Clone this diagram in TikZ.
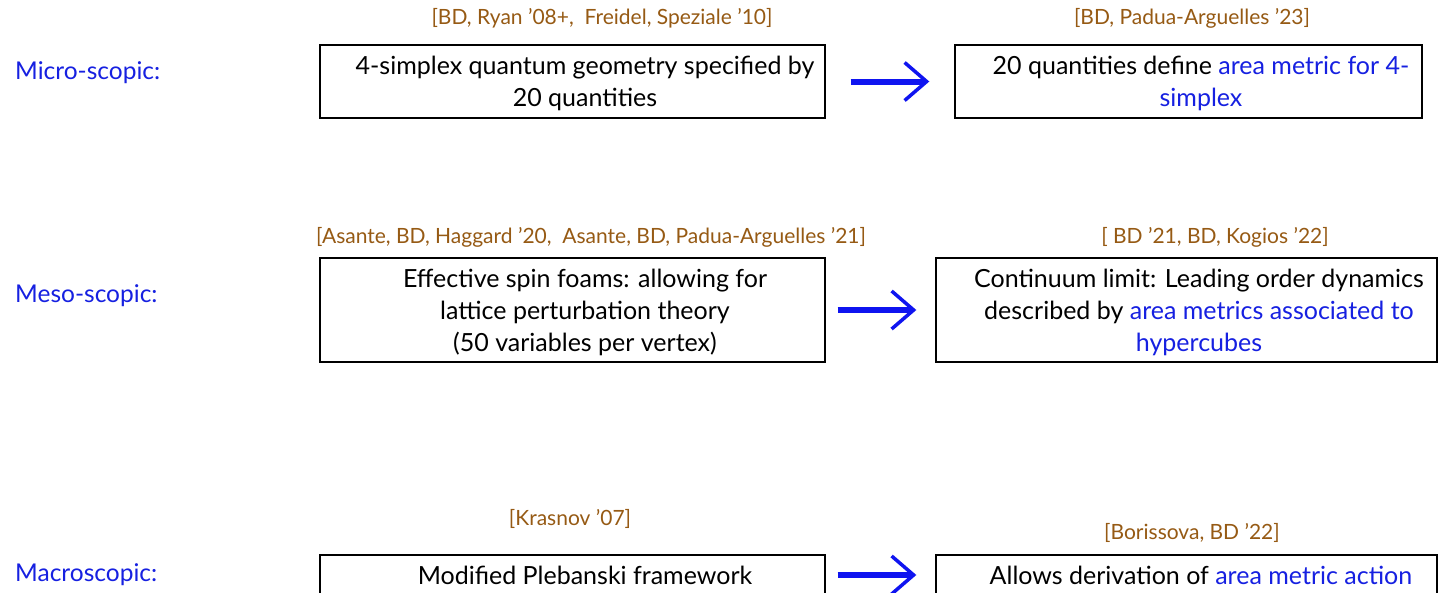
\documentclass[tikz,border=0pt]{standalone}
\usepackage{fontspec}
\setmainfont{Lato}
\usetikzlibrary{arrows.meta}
\definecolor{lblue}{RGB}{22,32,225}
\definecolor{ablue}{RGB}{15,20,240}
\definecolor{cbrown}{RGB}{150,90,20}
\tikzset{
  box/.style={draw=black, line width=1.4pt, inner sep=0pt, fill=none},
  btext/.style={align=center, inner sep=0pt, font=\fontsize{25}{32}\selectfont},
  cite/.style={text=cbrown, inner sep=0pt, font=\fontsize{21}{24}\selectfont},
  level/.style={text=lblue, anchor=west, inner sep=0pt, font=\fontsize{24.5}{28}\selectfont},
  arr/.style={draw=ablue, line width=6pt, -{Straight Barb[length=22pt,width=38pt,line width=3.5pt]}},
  hl/.style={text=lblue}
}
\begin{document}
\begin{tikzpicture}[x=1pt,y=-1pt]
\clip (0,0) rectangle (1439,592);
\fill[white] (0,0) rectangle (1439,592);

% level labels
\node[level] (lmicro) at (15,73) {Micro-scopic:};
\node[level] (lmeso) at (15,296) {Meso-scopic:};
\node[level] (lmacro) at (15,575) {Macroscopic:};

% boxes
\node[box, minimum width=505pt, minimum height=73pt] (ml) at (572.5,81.5) {};
\node[box, minimum width=467pt, minimum height=73pt] (mr) at (1188.5,81.5) {};
\node[box, minimum width=505pt, minimum height=104pt] (sl) at (572.5,310) {};
\node[box, minimum width=501pt, minimum height=104pt] (sr) at (1186.5,310) {};
\node[box, minimum width=505pt, minimum height=40pt] (bl) at (572.5,575) {};
\node[box, minimum width=501pt, minimum height=40pt] (br) at (1186.5,575) {};

% box texts
\node[btext] (tml) at (585,83) {4-simplex quantum geometry specified by\\20 quantities};
\node[btext] (tmr) at (1201,83) {20 quantities define {\color{lblue}area metric for 4-}\\{\color{lblue}simplex}};
\node[btext] (tsl) at (585,312) {Effective spin foams: allowing for\\lattice perturbation theory\\(50 variables per vertex)};
\node[btext] (tsr) at (1199,312) {Continuum limit: Leading order dynamics\\described by {\color{lblue}area metrics associated to}\\{\color{lblue}hypercubes}};
\node[btext] (tbl) at (585,575) {Modified Plebanski framework};
\node[btext] (tbr) at (1201,575) {Allows derivation of {\color{lblue}area metric action}};

% citations
\node[cite] (cml) at (602,18) {[BD, Ryan ’08+,\ \ Freidel, Speziale ’10]};
\node[cite] (cmr) at (1192,18) {[BD, Padua-Arguelles ’23]};
\node[cite] (csl) at (591,237) {[Asante, BD, Haggard ’20,\ \ Asante, BD, Padua-Arguelles ’21]};
\node[cite] (csr) at (1215,237) {[ BD ’21, BD, Kogios ’22]};
\node[cite] (cbl) at (570,519) {[Krasnov ’07]};
\node[cite] (cbr) at (1192,533) {[Borissova, BD ’22]};

% arrows
\draw[arr, shorten <=25pt, shorten >=25pt] (ml) -- (mr);
\draw[arr, shorten <=12pt, shorten >=19pt] (sl) -- (sr);
\draw[arr, shorten <=12pt, shorten >=19pt] (bl) -- (br);
\end{tikzpicture}
\end{document}
